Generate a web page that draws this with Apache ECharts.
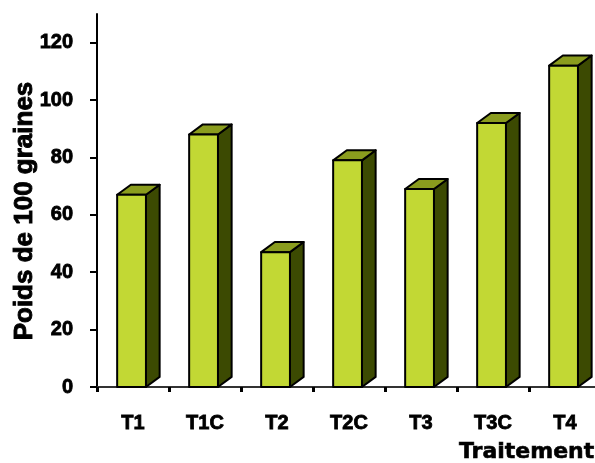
<!DOCTYPE html>
<html><head><meta charset="utf-8">
<script src="https://cdn.jsdelivr.net/npm/echarts@6/dist/echarts.min.js"></script>
<style>html,body{margin:0;padding:0;background:#fff}#c{width:595px;height:463px}</style>
</head><body><div id="c"></div>
<script>
const categories = ['T1', 'T1C', 'T2', 'T2C', 'T3', 'T3C', 'T4'];
const values = [67, 88, 47, 79, 69, 92, 112];
const yTicks = [0, 20, 40, 60, 80, 100, 120];

const chart = echarts.init(document.getElementById('c'));
const FONT = '"Liberation Sans", Arial, sans-serif';

function renderBar(params, api) {
  const idx = api.value(0), v = api.value(1);
  const top = api.coord([idx, v]);
  const base = api.coord([idx, 0]);
  const band = api.size([1, 0])[0];
  const w = band * 0.40;
  const dx = band * 0.19, dy = -band * 0.14;
  const cx = top[0] - band * 0.02;
  const x0 = cx - w / 2, x1 = cx + w / 2;
  const yt = top[1], yb = base[1];
  const st = (fill) => ({ fill: fill, stroke: '#000', lineWidth: 2, lineJoin: 'round' });
  return {
    type: 'group',
    children: [
      { type: 'polygon', shape: { points: [[x1, yb], [x1 + dx, yb + dy], [x1 + dx, yt + dy], [x1, yt]] }, style: st('#3c4a02') },
      { type: 'polygon', shape: { points: [[x0, yt], [x0 + dx, yt + dy], [x1 + dx, yt + dy], [x1, yt]] }, style: st('#8a9c1e') },
      { type: 'rect', shape: { x: x0, y: yt, width: w, height: yb - yt }, style: st('#c2d834') }
    ]
  };
}

const heavy = { textBorderColor: '#000', textBorderWidth: 0.8 };

chart.setOption({
  animation: false,
  backgroundColor: '#fff',
  grid: { left: 97, right: -6, top: 14, bottom: 76, outerBoundsMode: 'none', containLabel: false },
  xAxis: {
    type: 'category',
    data: categories,
    axisLine: { show: true, lineStyle: { color: '#333', width: 2 } },
    axisTick: { show: true, alignWithLabel: false, length: 5, lineStyle: { color: '#000', width: 3 } },
    axisLabel: Object.assign({ color: '#000', fontWeight: 'bold', fontSize: 20, fontFamily: FONT, margin: 26, interval: 0 }, heavy),
    splitLine: { show: false }
  },
  yAxis: {
    type: 'value',
    min: 0, max: 130, interval: 20,
    axisLine: { show: true, lineStyle: { color: '#000', width: 2 } },
    axisTick: { show: true, length: 7, lineStyle: { color: '#000', width: 2 }, customValues: yTicks },
    axisLabel: Object.assign({ color: '#000', fontWeight: 'bold', fontSize: 20, fontFamily: FONT, margin: 24, customValues: yTicks }, heavy),
    splitLine: { show: false }
  },
  graphic: [
    { type: 'text', x: 25, y: 211, rotation: Math.PI / 2,
      style: { text: 'Poids de 100 graines', fill: '#000', stroke: '#000', lineWidth: 0.9, font: 'bold 26px ' + FONT, align: 'center', verticalAlign: 'middle' } },
    { type: 'text', x: 459, y: 452,
      style: { text: 'Traitements', fill: '#000', stroke: '#000', lineWidth: 0.6, font: 'bold 22px "DejaVu Sans", sans-serif', align: 'left', verticalAlign: 'middle' } }
  ],
  series: [{
    type: 'custom',
    renderItem: renderBar,
    data: categories.map((c, i) => [i, values[i]]),
    encode: { x: 0, y: 1 },
    clip: false
  }]
});
</script></body></html>
